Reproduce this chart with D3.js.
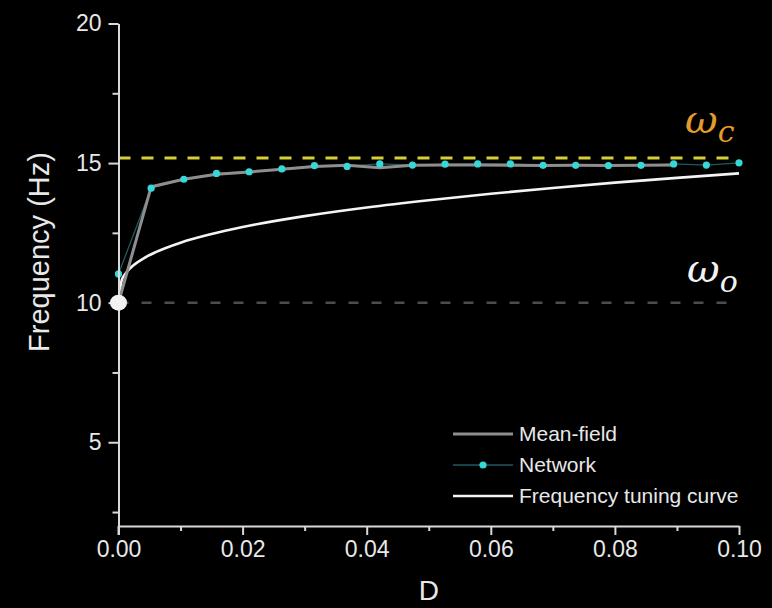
<!DOCTYPE html>
<html>
<head>
<meta charset="utf-8">
<script src="https://cdn.jsdelivr.net/npm/d3@7"></script>
<style>
  html, body { margin: 0; padding: 0; background: #000; }
  svg { display: block; }
</style>
</head>
<body>
<svg id="chart" width="772" height="608"></svg>
<script>
// ---- data -------------------------------------------------------------
const xTicks = [0, 0.02, 0.04, 0.06, 0.08, 0.10];
const xMinorTicks = [0.01, 0.03, 0.05, 0.07, 0.09];
const yTicks = [5, 10, 15, 20];
const yMinorTicks = [2.5, 7.5, 12.5, 17.5];

// Network simulation (noise intensity D vs. oscillation frequency)
const networkD = [0, 0.00526, 0.01053, 0.01579, 0.02105, 0.02632, 0.03158, 0.03684,
                  0.04211, 0.04737, 0.05263, 0.05789, 0.06316, 0.06842, 0.07368,
                  0.07895, 0.08421, 0.08947, 0.09474, 0.1];
const networkHz = [11.03, 14.10, 14.42, 14.63, 14.69, 14.79, 14.91, 14.88,
                   14.97, 14.93, 14.96, 14.97, 14.97, 14.92, 14.92,
                   14.91, 14.92, 14.97, 14.93, 15.01];

// Mean-field reduction
const meanFieldD = [0, 0.00526, 0.01053, 0.01579, 0.02105, 0.02632, 0.03158, 0.03684,
                    0.04211, 0.04737, 0.05263, 0.05789, 0.06316, 0.06842, 0.07368,
                    0.07895, 0.08421, 0.08947];
const meanFieldHz = [10.0, 14.15, 14.42, 14.60, 14.68, 14.78, 14.88, 14.92,
                     14.83, 14.92, 14.93, 14.93, 14.92, 14.91, 14.92,
                     14.91, 14.92, 14.93];

// Frequency tuning curve
const tuningD = [0, 0.0005, 0.001, 0.002, 0.004, 0.006, 0.01, 0.015, 0.02,
                 0.03, 0.04, 0.05, 0.06, 0.07, 0.08, 0.09, 0.1];
const tuningHz = [10.0, 10.79, 11.0, 11.26, 11.58, 11.81, 12.15, 12.46, 12.71,
                  13.10, 13.41, 13.67, 13.90, 14.11, 14.30, 14.47, 14.63];

const omegaC = 15.18;   // critical frequency
const omegaO = 10;      // intrinsic frequency

const legendItems = ["Mean-field", "Network", "Frequency tuning curve"];

// ---- layout -----------------------------------------------------------
const svg = d3.select("#chart");
const W = 772, H = 608;
svg.append("rect").attr("width", W).attr("height", H).attr("fill", "#000");

const x = d3.scaleLinear().domain([0, 0.1]).range([118.5, 739]);
const y = d3.scaleLinear().domain([2, 20]).range([526, 23.5]);

const axisColor = "#d9d9d9";
const textColor = "#e8e8e8";
const font = "'Liberation Sans', Arial, sans-serif";

// ---- reference lines --------------------------------------------------
svg.append("line")
  .attr("x1", x(0)).attr("x2", x(0.0985))
  .attr("y1", y(omegaO)).attr("y2", y(omegaO))
  .attr("stroke", "#4d4d4d").attr("stroke-width", 2.5)
  .attr("stroke-dasharray", "10,13");

svg.append("line")
  .attr("x1", x(0)).attr("x2", x(0.1))
  .attr("y1", y(omegaC)).attr("y2", y(omegaC))
  .attr("stroke", "#d6cf3a").attr("stroke-width", 3)
  .attr("stroke-dasharray", "12,11");

// ---- series -------------------------------------------------------------
const tuning = tuningD.map((d, i) => [d, tuningHz[i]]);
const network = networkD.map((d, i) => [d, networkHz[i]]);
const meanField = meanFieldD.map((d, i) => [d, meanFieldHz[i]]);

svg.append("path")
  .datum(tuning)
  .attr("fill", "none").attr("stroke", "#f4f4f4").attr("stroke-width", 2.6)
  .attr("d", d3.line().x(d => x(d[0])).y(d => y(d[1])).curve(d3.curveMonotoneX));

svg.append("path")
  .datum(network)
  .attr("fill", "none").attr("stroke", "#1f5a60").attr("stroke-width", 1.3)
  .attr("d", d3.line().x(d => x(d[0])).y(d => y(d[1])));

svg.append("path")
  .datum(meanField)
  .attr("fill", "none").attr("stroke", "#8e8e8e").attr("stroke-width", 3)
  .attr("stroke-linejoin", "round")
  .attr("d", d3.line().x(d => x(d[0])).y(d => y(d[1])));

svg.selectAll("circle.net")
  .data(network)
  .join("circle")
  .attr("class", "net")
  .attr("cx", d => x(d[0])).attr("cy", d => y(d[1]))
  .attr("r", 3.6).attr("fill", "#36d7d6");

// ---- axes -------------------------------------------------------------
function styleAxis(g) {
  g.select(".domain").attr("stroke", axisColor).attr("stroke-width", 2);
  g.selectAll(".tick line").attr("stroke", axisColor).attr("stroke-width", 2);
  g.selectAll(".tick text").attr("fill", textColor)
    .style("font-family", font).style("font-size", "23px");
}

svg.append("g")
  .attr("transform", `translate(0,${y(2)})`)
  .call(d3.axisBottom(x).tickValues(xTicks).tickSize(9).tickSizeOuter(0)
        .tickPadding(6).tickFormat(d3.format(".2f")))
  .call(styleAxis);

svg.append("g")
  .attr("transform", `translate(0,${y(2)})`)
  .call(d3.axisBottom(x).tickValues(xMinorTicks).tickSize(5).tickFormat(""))
  .call(g => g.select(".domain").remove())
  .call(g => g.selectAll(".tick line").attr("stroke", axisColor).attr("stroke-width", 2));

svg.append("g")
  .attr("transform", `translate(${x(0)},0)`)
  .call(d3.axisLeft(y).tickValues(yTicks).tickSize(10).tickSizeOuter(0)
        .tickPadding(7).tickFormat(d3.format("d")))
  .call(styleAxis);

svg.append("g")
  .attr("transform", `translate(${x(0)},0)`)
  .call(d3.axisLeft(y).tickValues(yMinorTicks).tickSize(6).tickFormat(""))
  .call(g => g.select(".domain").remove())
  .call(g => g.selectAll(".tick line").attr("stroke", axisColor).attr("stroke-width", 2));

// extend the y axis line down to the lower edge of the x ticks
svg.append("line")
  .attr("x1", x(0)).attr("x2", x(0))
  .attr("y1", y(2)).attr("y2", y(2) + 9)
  .attr("stroke", axisColor).attr("stroke-width", 2);

// starting point (D = 0, intrinsic frequency)
svg.append("ellipse")
  .attr("cx", x(0)).attr("cy", y(omegaO))
  .attr("rx", 8.5).attr("ry", 8)
  .attr("fill", "#f2f2f2");

// ---- axis titles -------------------------------------------------------
svg.append("text")
  .attr("x", x(0.05)).attr("y", 600)
  .attr("text-anchor", "middle")
  .attr("fill", textColor)
  .style("font-family", font).style("font-size", "28px")
  .text("D");

svg.append("text")
  .attr("transform", `translate(49,252) rotate(-90)`)
  .attr("text-anchor", "middle")
  .attr("fill", textColor)
  .style("font-family", font).style("font-size", "29px")
  .text("Frequency (Hz)");

// ---- omega annotations ---------------------------------------------------
const omegaFont = "'DejaVu Serif', serif";
const wc = svg.append("text")
  .attr("x", 685).attr("y", 133)
  .attr("fill", "#e59a2c")
  .style("font-family", omegaFont).style("font-style", "italic");
wc.append("tspan").style("font-size", "40px").text("ω");
wc.append("tspan").attr("dy", 9).style("font-size", "30px").text("c");

const wo = svg.append("text")
  .attr("x", 687).attr("y", 282)
  .attr("fill", "#f2f2f2")
  .style("font-family", omegaFont).style("font-style", "italic");
wo.append("tspan").style("font-size", "40px").text("ω");
wo.append("tspan").attr("dy", 10).style("font-size", "30px").text("o");

// ---- legend -------------------------------------------------------------
const legendY = [434, 465, 496];
const lx0 = 453, lx1 = 513;
const legend = svg.append("g");

legend.append("line")
  .attr("x1", lx0).attr("x2", lx1).attr("y1", legendY[0]).attr("y2", legendY[0])
  .attr("stroke", "#8e8e8e").attr("stroke-width", 3);

legend.append("line")
  .attr("x1", lx0).attr("x2", lx1).attr("y1", legendY[1]).attr("y2", legendY[1])
  .attr("stroke", "#1f5a60").attr("stroke-width", 1.3);
legend.append("circle")
  .attr("cx", (lx0 + lx1) / 2).attr("cy", legendY[1]).attr("r", 3.6)
  .attr("fill", "#36d7d6");

legend.append("line")
  .attr("x1", lx0).attr("x2", lx1).attr("y1", legendY[2]).attr("y2", legendY[2])
  .attr("stroke", "#f4f4f4").attr("stroke-width", 2.6);

legend.selectAll("text.item")
  .data(legendItems)
  .join("text")
  .attr("class", "item")
  .attr("x", 519).attr("y", (d, i) => legendY[i])
  .attr("dy", "0.35em")
  .attr("fill", textColor)
  .style("font-family", font).style("font-size", "21px")
  .text(d => d);
</script>
</body>
</html>
